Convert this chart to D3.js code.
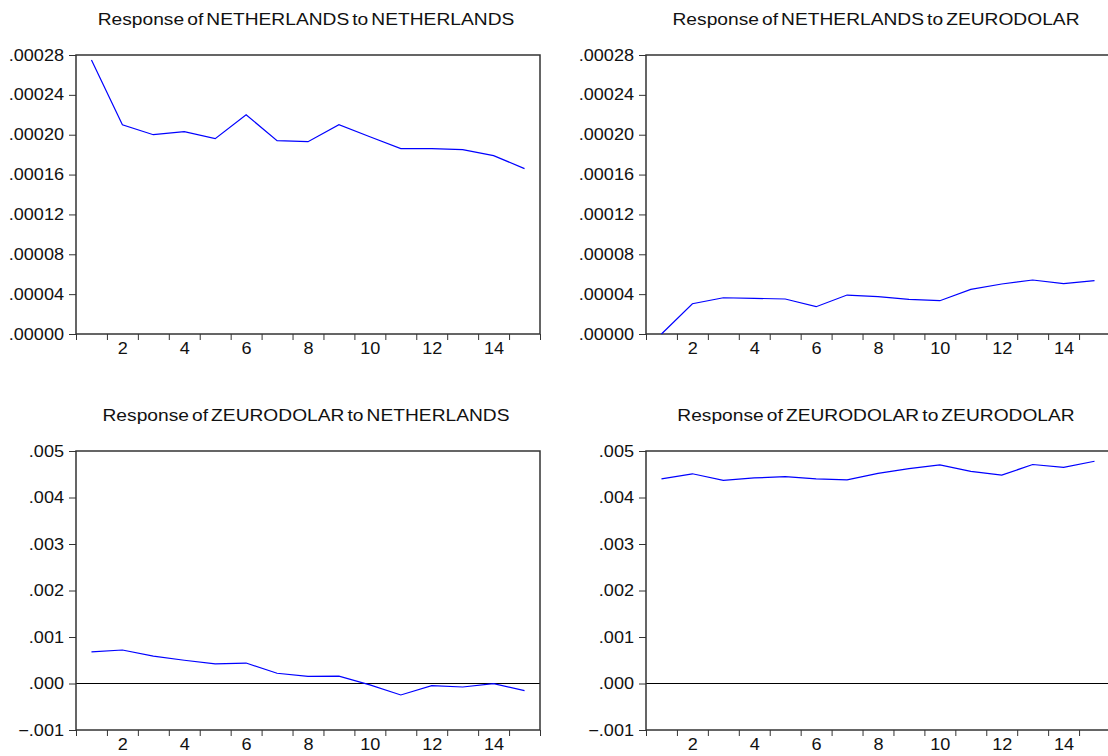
<!DOCTYPE html>
<html>
<head>
<meta charset="utf-8">
<script src="https://cdn.jsdelivr.net/npm/d3@7"></script>
<style>
  body { margin: 0; background: #fff; }
  svg { display: block; font-family: "Liberation Sans", Arial, sans-serif; }
</style>
</head>
<body>
<script>
// periods on the horizontal axis
const periods = [1, 2, 3, 4, 5, 6, 7, 8, 9, 10, 11, 12, 13, 14, 15];
const xLabels = [2, 4, 6, 8, 10, 12, 14];

// responses
const nlToNl = [0.000275, 0.000210, 0.000200, 0.000203, 0.000196, 0.000220, 0.000194, 0.000193,
  0.000210, 0.000198, 0.000186, 0.000186, 0.000185, 0.000179, 0.000166];
const nlToEur = [0.0000000, 0.0000304, 0.0000364, 0.0000358, 0.0000351, 0.0000274, 0.0000391, 0.0000375,
  0.0000348, 0.0000334, 0.0000448, 0.0000502, 0.0000542, 0.0000505, 0.0000535];
const eurToNl = [0.00068, 0.00072, 0.00059, 0.00050, 0.00042, 0.00044, 0.00022, 0.000155,
  0.00016, -0.00003, -0.000247, -0.000047, -0.000075, -0.000004, -0.000155];
const eurToEur = [0.00440, 0.00451, 0.00437, 0.00442, 0.00445, 0.00440, 0.00438, 0.00452,
  0.00462, 0.00470, 0.00456, 0.00448, 0.00471, 0.00465, 0.00478];

const ticksTop = [0, 0.00004, 0.00008, 0.00012, 0.00016, 0.00020, 0.00024, 0.00028];
const ticksBottom = [-0.001, 0, 0.001, 0.002, 0.003, 0.004, 0.005];

const panels = [
  { title: "Response of NETHERLANDS to NETHERLANDS", values: nlToNl, ticks: ticksTop, digits: 5, left: 76, top: 55 },
  { title: "Response of NETHERLANDS to ZEURODOLAR", values: nlToEur, ticks: ticksTop, digits: 5, left: 646, top: 55 },
  { title: "Response of ZEURODOLAR to NETHERLANDS", values: eurToNl, ticks: ticksBottom, digits: 3, left: 76, top: 451 },
  { title: "Response of ZEURODOLAR to ZEURODOLAR", values: eurToEur, ticks: ticksBottom, digits: 3, left: 646, top: 451 }
];

const width = 1108, height = 756;
const pw = 464, ph = 279;
// the original text is a little stretched sideways
const stretch = 1.13;

const svg = d3.select("body").append("svg")
  .attr("width", width)
  .attr("height", height);

panels.forEach(p => {
  const g = svg.append("g").attr("transform", `translate(${p.left},${p.top})`);

  const x = d3.scaleLinear().domain([0.5, 15.5]).range([0, pw]);
  const y = d3.scaleLinear().domain(d3.extent(p.ticks)).range([ph, 0]);

  const fmt = v => d3.format(`.${p.digits}f`)(v).replace("0.", ".");

  // title
  g.append("text")
    .attr("transform", `translate(${pw / 2 - 2},-30) scale(${stretch},1)`)
    .attr("text-anchor", "middle")
    .attr("font-size", 17)
    .attr("word-spacing", -2)
    .attr("fill", "#111")
    .text(p.title);

  // zero line
  if (y.domain()[0] < 0) {
    g.append("line")
      .attr("x1", 0).attr("x2", pw)
      .attr("y1", y(0)).attr("y2", y(0))
      .attr("stroke", "#000")
      .attr("stroke-width", 1);
  }

  // y axis
  const yAxis = g.append("g")
    .call(d3.axisLeft(y).tickValues(p.ticks).tickFormat(fmt).tickSize(7));
  yAxis.select(".domain").remove();
  yAxis.selectAll("line").attr("stroke", "#333");
  yAxis.selectAll("text")
    .attr("x", null)
    .attr("transform", `translate(-12,0) scale(${stretch},1)`)
    .attr("font-size", 16).attr("fill", "#111").attr("font-family", null);

  // x axis: ticks on period boundaries, labels on even periods
  const xTicks = g.append("g").attr("transform", `translate(0,${ph})`)
    .call(d3.axisBottom(x).tickValues(d3.range(0.5, 16, 1)).tickFormat("").tickSize(6));
  xTicks.select(".domain").remove();
  xTicks.selectAll("line").attr("stroke", "#333");

  const xLab = g.append("g").attr("transform", `translate(0,${ph})`)
    .call(d3.axisBottom(x).tickValues(xLabels).tickFormat(d3.format("d")).tickSize(0));
  xLab.select(".domain").remove();
  xLab.selectAll("text")
    .attr("y", null)
    .attr("transform", `translate(0,9) scale(${stretch},1)`)
    .attr("font-size", 16).attr("fill", "#111").attr("font-family", null);

  // frame
  g.append("rect")
    .attr("width", pw).attr("height", ph)
    .attr("fill", "none")
    .attr("stroke", "#333")
    .attr("stroke-width", 1.5);

  // response line
  const line = d3.line()
    .x((d, i) => x(periods[i]))
    .y(d => y(d));

  g.append("path")
    .datum(p.values)
    .attr("fill", "none")
    .attr("stroke", "#0000ff")
    .attr("stroke-width", 1.2)
    .attr("d", line);
});
</script>
</body>
</html>
